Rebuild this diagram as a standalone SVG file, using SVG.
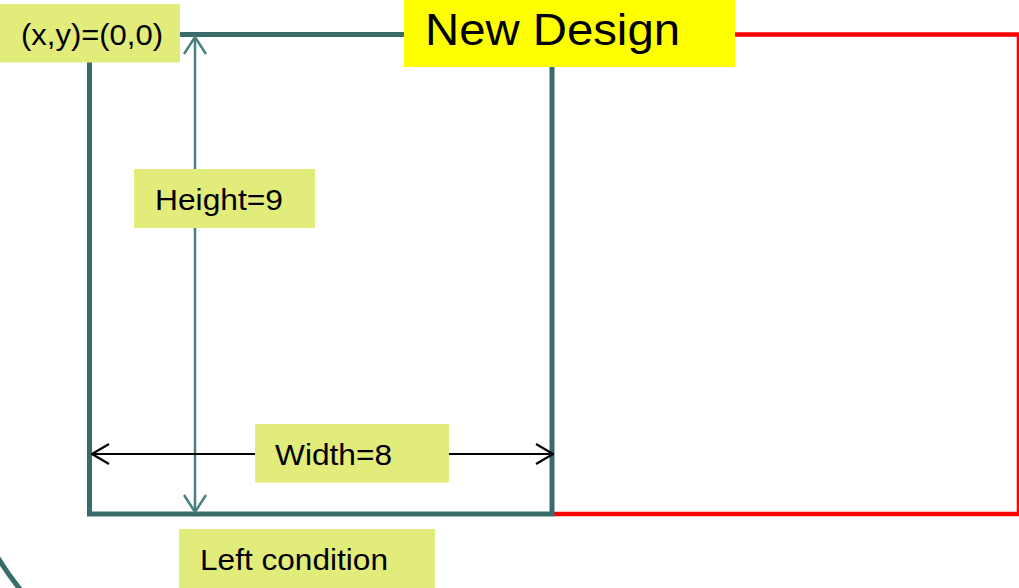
<svg xmlns="http://www.w3.org/2000/svg" width="1019" height="588" viewBox="0 0 1019 588">
  <style>
    .lbl { font-family: "Liberation Sans", Arial, sans-serif; font-size: 30px; fill: #000; }
    .big { font-family: "Liberation Sans", Arial, sans-serif; font-size: 45px; fill: #000; }
    .tag { fill: #e2ec7b; }
  </style>
  <defs>
    <marker id="headTeal" viewBox="0 0 20 24" refX="19" refY="12" markerWidth="20" markerHeight="24" markerUnits="userSpaceOnUse" orient="auto-start-reverse">
      <polyline points="2,1 19,12 2,23" fill="none" stroke="#4a7f7f" stroke-width="2.5"/>
    </marker>
    <marker id="headBlack" viewBox="0 0 20 24" refX="19" refY="12" markerWidth="20" markerHeight="24" markerUnits="userSpaceOnUse" orient="auto-start-reverse">
      <polyline points="2,2 19,12 2,22" fill="none" stroke="#000" stroke-width="2.2"/>
    </marker>
  </defs>
  <rect width="1019" height="588" fill="#fff"/>

  <!-- outline shapes -->
  <g id="frames">
    <path id="new-frame" d="M 554,34.5 H 1019 V 514 H 554" fill="none" stroke="#ff0000" stroke-width="4.5"/>
    <rect id="left-frame" x="89.5" y="34.5" width="462.5" height="479.5" fill="none" stroke="#3a6b6b" stroke-width="5"/>
    <path id="arc" d="M -5,553 A 330 330 0 0 0 23,593" fill="none" stroke="#3a6b6b" stroke-width="5"/>
  </g>

  <!-- dimension connectors -->
  <g id="connectors">
    <line id="height-dim" x1="195" y1="37" x2="195" y2="512" stroke="#4a7f7f" stroke-width="2.5" marker-start="url(#headTeal)" marker-end="url(#headTeal)"/>
    <line id="width-dim" x1="92" y1="454" x2="553" y2="454" stroke="#000" stroke-width="2.2" marker-start="url(#headBlack)" marker-end="url(#headBlack)"/>
  </g>

  <g id="origin-label">
    <rect class="tag" x="0" y="4" width="180" height="58.5"/>
    <text class="lbl" x="21" y="45" textLength="142" lengthAdjust="spacingAndGlyphs">(x,y)=(0,0)</text>
  </g>

  <g id="title-label">
    <rect x="404" y="0" width="331" height="67" fill="#ffff00"/>
    <text class="big" x="425" y="45" textLength="255" lengthAdjust="spacingAndGlyphs">New Design</text>
  </g>

  <g id="height-label">
    <rect class="tag" x="134" y="169" width="181" height="59"/>
    <text class="lbl" x="155" y="210" textLength="128" lengthAdjust="spacingAndGlyphs">Height=9</text>
  </g>

  <g id="width-label">
    <rect class="tag" x="255" y="424" width="194" height="58.5"/>
    <text class="lbl" x="275" y="465" textLength="117" lengthAdjust="spacingAndGlyphs">Width=8</text>
  </g>

  <g id="left-label">
    <rect class="tag" x="179" y="529" width="256" height="59"/>
    <text class="lbl" x="200" y="570" textLength="188" lengthAdjust="spacingAndGlyphs">Left condition</text>
  </g>
</svg>
